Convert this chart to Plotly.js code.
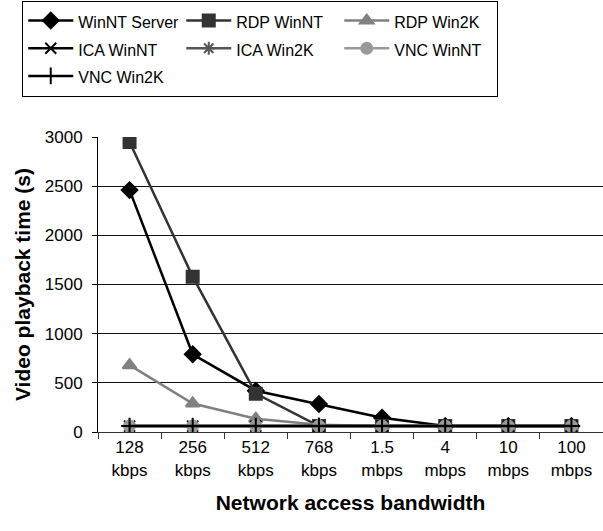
<!DOCTYPE html>
<html><head><meta charset="utf-8">
<script src="https://cdn.plot.ly/plotly-3.0.1.min.js"></script>
<style>body{margin:0;padding:0;background:#fff}#chart{width:603px;height:531px}</style>
</head><body><div id="chart"></div>
<script>
const categories = ["128<br>kbps","256<br>kbps","512<br>kbps","768<br>kbps","1.5<br>mbps","4<br>mbps","10<br>mbps","100<br>mbps"];
const seriesNames = ["WinNT Server","RDP WinNT","RDP Win2K","ICA WinNT","ICA Win2K","VNC WinNT","VNC Win2K"];
const winntServer = [2460, 790, 420, 285, 145, 60, 60, 60];
const rdpWinNT    = [2950, 1580, 390, 60, 60, 60, 60, 60];
const rdpWin2K    = [680, 290, 135, 75, 60, 60, 60, 60];
const icaWinNT    = [60, 60, 60, 60, 60, 60, 60, 60];
const icaWin2K    = [60, 60, 60, 60, 60, 60, 60, 60];
const vncWinNT    = [60, 60, 60, 60, 60, 60, 60, 60];
const vncWin2K    = [60, 60, 60, 60, 60, 60, 60, 60];

function tr(name, y, color, symbol, size) {
  return {
    type: 'scatter', mode: 'lines+markers',
    name: "<span style='font-size:16px'>" + name + "</span>",
    x: categories, y: y,
    line: {color: color, width: 2.5},
    marker: {symbol: symbol, size: size, color: color, line: {color: color, width: 2}}
  };
}
const data = [
  tr(seriesNames[0], winntServer, '#000000', 'diamond', 12),
  tr(seriesNames[1], rdpWinNT, '#333333', 'square', 12),
  tr(seriesNames[2], rdpWin2K, '#808080', 'triangle-up', 12),
  tr(seriesNames[3], icaWinNT, '#000000', 'x-thin-open', 11),
  tr(seriesNames[4], icaWin2K, '#555555', 'asterisk-open', 11),
  tr(seriesNames[5], vncWinNT, '#999999', 'circle', 11),
  tr(seriesNames[6], vncWin2K, '#000000', 'cross-thin-open', 12)
];
const layout = {
  width: 603, height: 531,
  margin: {l: 98, r: 0, t: 137, b: 99},
  paper_bgcolor: '#fff', plot_bgcolor: '#fff',
  font: {family: 'Arial', size: 17, color: '#000'},
  showlegend: true,
  legend: {
    orientation: 'h', x: -0.15, xanchor: 'left', y: 1.462, yanchor: 'top',
    bordercolor: '#000', borderwidth: 1, bgcolor: '#fff',
    font: {family: 'Arial', size: 19, color: '#000'},
    entrywidth: 98, entrywidthmode: 'pixels', itemwidth: 45,
    traceorder: 'normal', tracegroupgap: 0
  },
  xaxis: {
    type: 'category', range: [-0.5, 7.5],
    showline: true, linecolor: '#333', linewidth: 1,
    ticks: 'outside', tickson: 'boundaries', ticklen: 6, tickcolor: '#333',
    showgrid: false, zeroline: false,
    tickfont: {family: 'Arial', size: 17},
    title: {text: 'Network access bandwidth', font: {family: 'Arial', size: 21, weight: 'bold'}, standoff: 16}
  },
  yaxis: {
    range: [0, 3000], dtick: 500, tickformat: 'd',
    showline: true, linecolor: '#000', linewidth: 1,
    ticks: 'outside', ticklen: 5, tickcolor: '#000',
    ticklabelstandoff: 6,
    showgrid: true, gridcolor: '#111', gridwidth: 1, zeroline: false,
    tickfont: {family: 'Arial', size: 17},
    title: {text: 'Video playback time (s)', font: {family: 'Arial', size: 21, weight: 'bold'}, standoff: 8}
  }
};
Plotly.newPlot('chart', data, layout, {displayModeBar: false, staticPlot: true});
</script></body></html>
